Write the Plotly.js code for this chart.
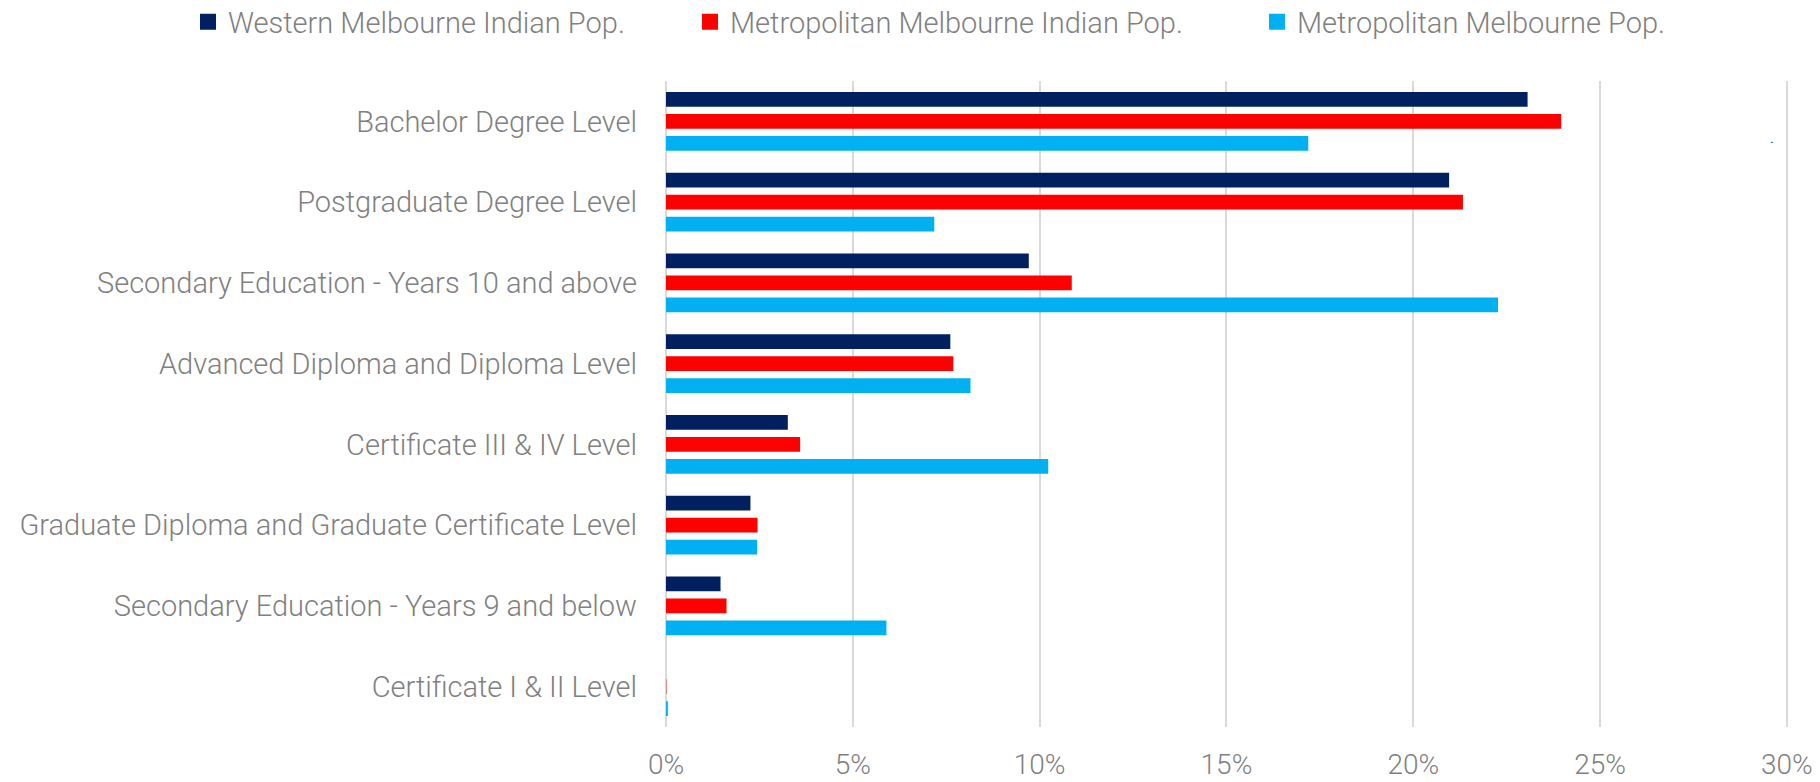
<!DOCTYPE html>
<html>
<head>
<meta charset="utf-8">
<script src="https://cdn.plot.ly/plotly-3.0.1.min.js"></script>
<style>
  html, body { margin: 0; padding: 0; background: #fff; }
  #chart { width: 1820px; height: 782px; }
</style>
</head>
<body>
<div id="chart"></div>
<script>
var categories = [
  'Bachelor Degree Level',
  'Postgraduate Degree Level',
  'Secondary Education - Years 10 and above',
  'Advanced Diploma and Diploma Level',
  'Certificate III & IV Level',
  'Graduate Diploma and Graduate Certificate Level',
  'Secondary Education - Years 9 and below',
  'Certificate I & II Level'
];

var seriesNames = [
  'Western Melbourne Indian Pop.',
  'Metropolitan Melbourne Indian Pop.',
  'Metropolitan Melbourne Pop.'
];
var westernIndian = [23.06, 20.96, 9.71, 7.61, 3.26, 2.26, 1.46, 0.0];
var metroIndian   = [23.96, 21.33, 10.86, 7.69, 3.59, 2.45, 1.62, 0.01];
var metroPop      = [17.19, 7.18, 22.27, 8.15, 10.23, 2.44, 5.90, 0.05];

var tickVals = [0, 5, 10, 15, 20, 25, 30];

var colors = ['#002060', '#ff0000', '#00b0f0'];
var greyText = '#808080';
var fontFam = 'Roboto, "Open Sans", sans-serif';

var values = [westernIndian, metroIndian, metroPop];
var legendIds = ['legend', 'legend2', 'legend3'];

var data = [];
// bars (legend entries drawn by the square-marker stand-ins below)
values.forEach(function (vals, i) {
  data.push({
    type: 'bar', orientation: 'h',
    y: categories, x: vals,
    name: seriesNames[i],
    marker: { color: colors[i] },
    showlegend: false
  });
});
// legend stand-ins with bigger square swatches
values.forEach(function (vals, i) {
  data.push({
    type: 'scatter', mode: 'markers',
    x: [null], y: [null],
    name: seriesNames[i],
    marker: { color: colors[i], symbol: 'square', size: 16 },
    legend: legendIds[i],
    showlegend: true
  });
});

var legendStyle = function (xpos) {
  return {
    orientation: 'h',
    x: xpos, xref: 'container', xanchor: 'left',
    y: 1 - 22 / 782, yref: 'container', yanchor: 'middle',
    font: { family: fontFam, size: 29, color: greyText, weight: 300 },
    bgcolor: 'rgba(0,0,0,0)',
    itemwidth: 30,
    tracegroupgap: 0
  };
};

var layout = {
  width: 1820, height: 782,
  margin: { l: 666, r: 32, t: 81, b: 55 },
  paper_bgcolor: '#ffffff',
  plot_bgcolor: '#ffffff',
  barmode: 'group',
  bargap: 0.18,
  bargroupgap: 0.33,
  font: { family: fontFam, size: 29, color: greyText, weight: 300 },
  showlegend: true,
  legend: legendStyle(188 / 1820),
  legend2: legendStyle(690 / 1820),
  legend3: legendStyle(1257 / 1820),
  xaxis: {
    range: [0, 30.03],
    tickvals: tickVals,
    ticktext: tickVals.map(function (v) { return v + '%'; }),
    showgrid: true,
    gridcolor: '#d9d9d9',
    gridwidth: 2,
    zeroline: true,
    zerolinecolor: '#d9d9d9',
    zerolinewidth: 2,
    showline: false,
    ticks: '',
    ticklabelstandoff: 18,
    tickfont: { family: fontFam, size: 28, color: greyText, weight: 300 },
    fixedrange: true
  },
  yaxis: {
    type: 'category',
    categoryarray: categories,
    autorange: 'reversed',
    showgrid: false,
    showline: false,
    zeroline: false,
    ticks: '',
    ticklabelstandoff: 28,
    tickfont: { family: fontFam, size: 29, color: greyText, weight: 300 },
    fixedrange: true
  },
  annotations: [{
    xref: 'x', yref: 'paper',
    x: 29.6, y: 0.93,
    text: '.', showarrow: false,
    font: { family: fontFam, size: 16, color: '#000000' }
  }]
};

Plotly.newPlot('chart', data, layout, { displayModeBar: false, staticPlot: true });
</script>
</body>
</html>
